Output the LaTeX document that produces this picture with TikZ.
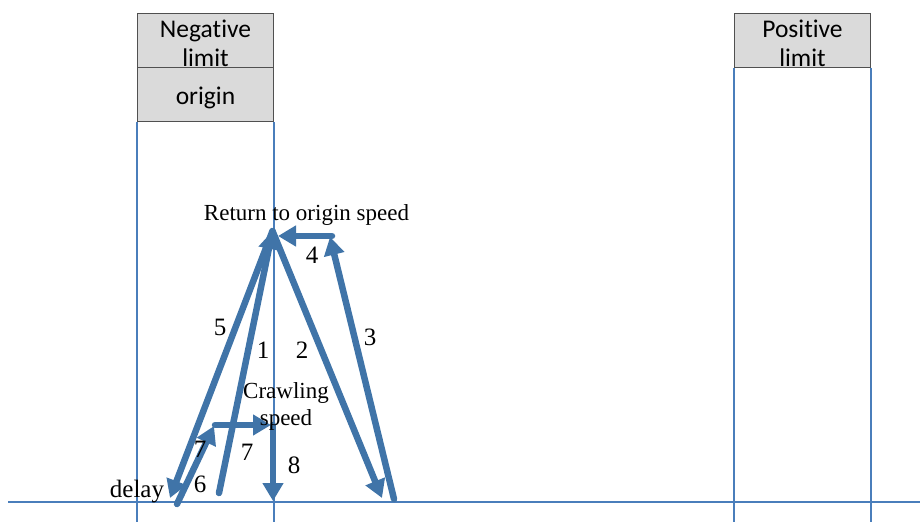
\documentclass[tikz,border=0pt]{standalone}
\usepackage{fontspec}
\setmainfont{Liberation Serif}
\newfontfamily\boxfont[Ligatures=NoCommon]{Carlito}
\usetikzlibrary{arrows.meta}
\definecolor{arrowblue}{RGB}{64,116,168}
\definecolor{lineblue}{RGB}{74,126,187}
\definecolor{boxgray}{RGB}{218,218,218}
\definecolor{boxedge}{RGB}{80,80,80}
\begin{document}
\begin{tikzpicture}[x=1pt,y=-1pt,
  limitbox/.style={draw=boxedge, line width=1pt, fill=boxgray, minimum width=136pt, minimum height=54pt, inner sep=0pt},
  boxtext/.style={inner sep=0pt, align=center, font=\boxfont\fontsize{25.5}{29}\selectfont},
  guide/.style={draw=lineblue, line width=1.5pt},
  move/.style={draw=arrowblue, line width=6.5pt, line cap=round},
  tip/.style={-{Triangle[length=18pt,width=20pt]}},
  num/.style={font=\fontsize{25}{25}\selectfont, anchor=base, inner sep=0pt},
  lbl/.style={font=\fontsize{23}{27}\selectfont, anchor=base, inner sep=0pt, align=center}]
\useasboundingbox (0,0) rectangle (920,522);
\coordinate (bot) at (0,522);
% axis and guide lines
\coordinate (axL) at (8,502);
\coordinate (axR) at (920,502);
\draw[guide] (axL) -- (axR);
\node[limitbox, label={[boxtext, yshift=-3pt]center:{Negative\\limit}}] (neg) at (205.5,40.5) {};
\node[limitbox, label={[boxtext, yshift=-3pt]center:{origin}}] (org) at (205.5,94.5) {};
\node[limitbox, label={[boxtext, yshift=-3pt]center:{Positive\\limit}}] (pos) at (802.5,40.5) {};
\draw[guide] (org.south west) -- (org.south west |- bot);
\draw[guide] (org.south east) -- (org.south east |- bot);
\draw[guide] (pos.south west) -- (pos.south west |- bot);
\draw[guide] (pos.south east) -- (pos.south east |- bot);
% points
\coordinate (apex) at (272.5,231);
\coordinate (p1s) at (219,493);
\coordinate (p2e) at (382,498);
\coordinate (p3s) at (394,499);
\coordinate (c34) at (330,237);
\coordinate (c4) at (332,236);
\coordinate (p4e) at (278,236);
\coordinate (p5e) at (170,498);
\coordinate (d6) at (177,504);
\coordinate (c67) at (214,426);
\coordinate (h7) at (215,425);
\coordinate (p7e) at (271,425);
\coordinate (p8s) at (273,425);
\coordinate (p8e) at (273,501);
% moves
\draw[move,tip] (p1s) -- (apex);
\draw[move,tip] (apex) -- (p2e);
\draw[move,tip] (p3s) -- (c34);
\draw[move,tip] (c4) -- (p4e);
\draw[move,tip] (apex) -- (p5e);
\draw[move,tip] (d6) -- (c67);
\draw[move,tip] (h7) -- (p7e);
\draw[move,tip] (p8s) -- (p8e);
% labels
\node[lbl] (ret) at (306.5,220) {Return to origin speed};
\node[lbl] (crawl) at (286,425) {Crawling\\speed};
\node[lbl, font=\fontsize{25}{27}\selectfont] (delay) at (137,497) {delay};
\node[num] (n5) at (220,335) {5};
\node[num] (n1) at (263,358) {1};
\node[num] (n2) at (302,358) {2};
\node[num] (n3) at (370,345) {3};
\node[num] (n4) at (312,263) {4};
\node[num] (n7a) at (200,457) {7};
\node[num] (n7b) at (247,460) {7};
\node[num] (n6) at (200,492) {6};
\node[num] (n8) at (294,473) {8};
\end{tikzpicture}
\end{document}
